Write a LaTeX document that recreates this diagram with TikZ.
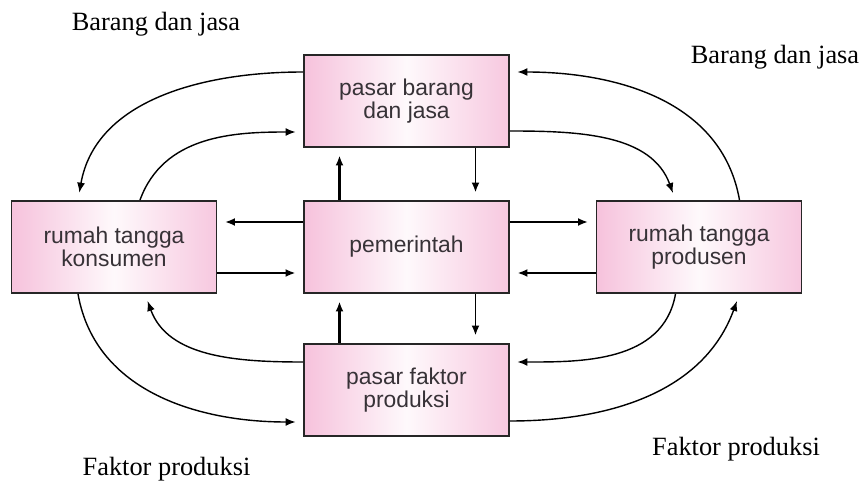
\documentclass[tikz,border=0pt]{standalone}
\usepackage{fontspec}
\setmainfont{Liberation Serif}
\setsansfont{Liberation Sans}
\usepackage{xcolor}
\usetikzlibrary{arrows.meta}

\definecolor{boxpink}{RGB}{246,194,220}
\definecolor{boxtext}{RGB}{55,50,55}

\tikzset{
  sektor/.style={draw=black!85, line width=1.1pt, minimum width=4.1cm, minimum height=1.84cm,
    left color=boxpink, right color=boxpink!90, middle color=boxpink!10,
    align=center, text=boxtext, font=\sffamily\fontsize{13}{13}\selectfont},
  arus/.style={-{Latex[length=2mm,width=1.6mm]}, line width=0.8pt, shorten >=0.15cm},
  arustebal/.style={arus, line width=1.5pt},
  keterangan/.style={inner sep=0pt, font=\fontsize{15}{18}\selectfont}
}

\begin{document}
\begin{tikzpicture}
        \useasboundingbox (0,0) rectangle (17.24,9.64);
        % Sektor
        \node[sektor] (pemerintah) at (8.13,4.70) {pemerintah};
        \node[sektor] (pbj) at (8.13,7.62) {pasar barang\\dan jasa};
        \node[sektor] (konsumen) at (2.28,4.70) {rumah tangga\\konsumen};
        \node[sektor] (produsen) at (13.98,4.70) {rumah tangga\\produsen};
        \node[sektor] (pfp) at (8.13,1.84) {pasar faktor\\produksi};
        % Keterangan arus
        \node[keterangan] (bjkiri) at (3.12,9.16) {Barang dan jasa};
        \node[keterangan] (bjkanan) at (15.5,8.5) {Barang dan jasa};
        \node[keterangan] (fpkiri) at (3.33,0.26) {Faktor produksi};
        \node[keterangan] (fpkanan) at (14.72,0.66) {Faktor produksi};
        % Pasar barang dan jasa
        \draw[arus] ([yshift=5.8mm]pbj.west) to[out=180,in=80] ([xshift=-7.2mm]konsumen.north);
        \draw[arus] ([xshift=5.2mm]konsumen.north) to[out=70,in=180] ([yshift=-6.2mm]pbj.west);
        \draw[arus] ([yshift=-6mm]pbj.east) to[out=0,in=110] ([xshift=-4.7mm]produsen.north);
        \draw[arus] ([xshift=8.1mm]produsen.north) to[out=100,in=0] ([yshift=5.8mm]pbj.east);
        % Pasar faktor produksi
        \draw[arus] ([yshift=5.6mm]pfp.west) to[out=180,in=-70] ([xshift=6.2mm]konsumen.south);
        \draw[arus] ([xshift=-7.2mm]konsumen.south) to[out=-80,in=180] ([yshift=-6.4mm]pfp.west);
        \draw[arus] ([xshift=-4.7mm]produsen.south) to[out=-100,in=0] ([yshift=5.6mm]pfp.east);
        \draw[arus] ([yshift=-6.2mm]pfp.east) to[out=0,in=-110] ([xshift=8.1mm]produsen.south);
        % Pemerintah
        \draw[arustebal] ([yshift=5mm]pemerintah.west) -- ([yshift=5mm]konsumen.east);
        \draw[arustebal] ([yshift=-5.2mm]konsumen.east) -- ([yshift=-5.2mm]pemerintah.west);
        \draw[arustebal] ([yshift=5mm]pemerintah.east) -- ([yshift=5mm]produsen.west);
        \draw[arustebal] ([yshift=-5.2mm]produsen.west) -- ([yshift=-5.2mm]pemerintah.east);
        \draw[arustebal] ([xshift=-13.4mm]pemerintah.north) -- ([xshift=-13.4mm]pbj.south);
        \draw[arus, line width=1.1pt] ([xshift=13.8mm]pbj.south) -- ([xshift=13.8mm]pemerintah.north);
        \draw[arustebal] ([xshift=-13.4mm]pfp.north) -- ([xshift=-13.4mm]pemerintah.south);
        \draw[arus, line width=1.1pt] ([xshift=13.8mm]pemerintah.south) -- ([xshift=13.8mm]pfp.north);
    \end{tikzpicture}
\end{document}
